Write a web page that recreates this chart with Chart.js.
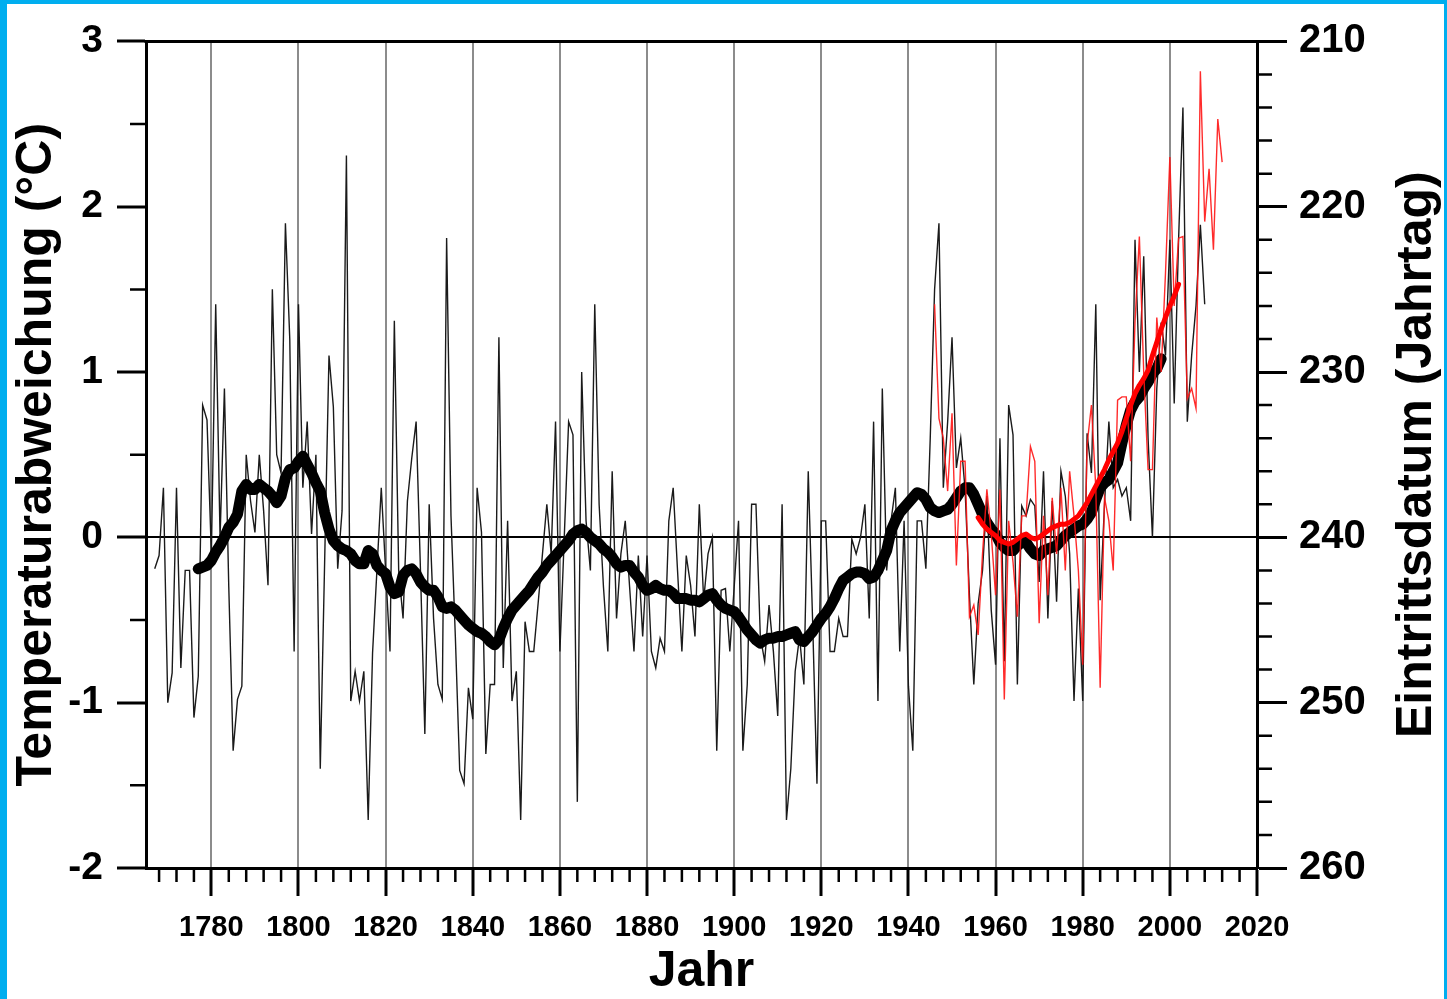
<!DOCTYPE html>
<html>
<head>
<meta charset="utf-8">
<script src="https://cdn.jsdelivr.net/npm/chart.js@4.4.1/dist/chart.umd.min.js"></script>
<style>
  html, body { margin: 0; padding: 0; background: #fff; }
  #frame {
    position: absolute; left: 0; top: 0;
    width: 1447px; height: 999px; box-sizing: border-box;
    border-left: 7px solid #00AEEF; border-top: 4px solid #00AEEF; border-right: 3px solid #00AEEF;
    background: #fff;
  }
  #box { position: relative; width: 1437px; height: 995px; }
</style>
</head>
<body>
<div id="frame"><div id="box"><canvas id="phenoChart"></canvas></div></div>
<script>
// Jahreswerte Temperaturabweichung (°C), ab 1767
const tempStart = 1767;
const tempAnnual = [
    -0.19, -0.11, 0.30,
    -1.00, -0.82, 0.30, -0.79, -0.20, -0.20, -1.09, -0.84, 0.80, 0.71,   // 1770
    -0.10, 1.41, 0.00, 0.90, -0.30, -1.29, -0.98, -0.90, 0.50, 0.22,     // 1780
    0.03, 0.50, 0.16, -0.29, 1.50, 0.50, 0.39, 1.90, 1.20, -0.69,        // 1790
    1.41, 0.30, 0.70, 0.02, 0.50, -1.40, -0.15, 1.10, 0.79, -0.19,       // 1800
    0.16, 2.31, -0.99, -0.81, -0.99, -0.81, -1.71, -0.70, -0.20, 0.30,   // 1810
    -0.20, -0.69, 1.31, -0.20, -0.49, 0.22, 0.48, 0.70, -0.20, -1.19,    // 1820
    0.20, -0.49, -0.89, -0.98, 1.81, 0.13, -0.60, -1.41, -1.49, -0.91,   // 1830
    -1.10, 0.30, 0.03, -1.31, -0.89, -0.89, 1.21, -0.79, 0.10, -0.99,    // 1840
    -0.81, -1.71, -0.51, -0.69, -0.69, -0.40, -0.10, 0.20, -0.10, 0.70,  // 1850
    -0.69, 0.00, 0.70, 0.62, -1.60, 1.00, 0.10, -0.20, 1.41, 0.20,       // 1860
    -0.30, -0.69, 0.40, -0.49, -0.10, 0.10, -0.30, -0.69, -0.11, -0.60,  // 1870
    -0.11, -0.69, -0.79, -0.61, -0.69, 0.10, 0.30, -0.20, -0.69, -0.11,  // 1880
    -0.29, -0.60, 0.20, -0.38, -0.10, 0.00, -1.29, -0.32, -0.31, -0.69,  // 1890
    -0.30, 0.10, -1.29, -0.89, 0.20, 0.20, -0.60, -0.75, -0.41, -0.69,   // 1900
    -1.08, 0.20, -1.71, -1.40, -0.81, -0.60, -0.89, 0.40, -0.50, -1.49,  // 1910
    0.10, 0.10, -0.69, -0.69, -0.49, -0.60, -0.60, -0.01, -0.10, 0.00,   // 1920
    0.20, -0.49, 0.70, -0.99, 0.90, -0.20, 0.10, 0.30, -0.69, 0.10,      // 1930
    -0.90, -1.29, 0.10, 0.10, -0.19, 0.60, 1.50, 1.90, 0.30, 0.70,       // 1940
    1.21, 0.42, 0.60, 0.29, -0.35, -0.89, -0.40, -0.20, 0.25, -0.44,     // 1950
    -0.77, 0.60, -0.75, 0.80, 0.62, -0.89, 0.19, 0.13, 0.23, 0.19,       // 1960
    -0.27, 0.40, -0.49, 0.22, -0.39, 0.40, 0.25, -0.10, -0.99, -0.31,    // 1970
    -0.99, 0.63, 0.39, 1.41, -0.38, 0.20, 0.70, 0.30, 0.35, 0.25,        // 1980
    0.30, 0.10, 1.80, 1.00, 1.70, 0.60, 0.00, 0.90, 1.30, 1.10,          // 1990
    1.80, 0.81, 1.80, 2.60, 0.70, 1.10, 1.40, 1.89, 1.41                 // 2000
];

// geglättete Temperaturabweichung (°C), ab 1777
const smoothStart = 1777;
const tempSmooth = [
    -0.19, -0.18, -0.17,
    -0.14, -0.09, -0.05, 0.00, 0.06, 0.09, 0.14, 0.28, 0.32, 0.29,       // 1780
    0.29, 0.32, 0.30, 0.28, 0.25, 0.21, 0.25, 0.36, 0.41, 0.42,          // 1790
    0.46, 0.49, 0.44, 0.39, 0.33, 0.28, 0.15, 0.05, -0.02, -0.05,        // 1800
    -0.07, -0.08, -0.10, -0.14, -0.16, -0.16, -0.08, -0.10, -0.17, -0.20, // 1810
    -0.22, -0.30, -0.34, -0.33, -0.23, -0.20, -0.19, -0.22, -0.27, -0.30, // 1820
    -0.32, -0.32, -0.36, -0.42, -0.43, -0.42, -0.44, -0.47, -0.50, -0.53, // 1830
    -0.55, -0.57, -0.58, -0.60, -0.63, -0.65, -0.62, -0.55, -0.49, -0.44, // 1840
    -0.41, -0.38, -0.35, -0.32, -0.28, -0.24, -0.21, -0.17, -0.14, -0.11, // 1850
    -0.08, -0.05, -0.02, 0.02, 0.04, 0.05, 0.03, 0.00, -0.02, -0.04,     // 1860
    -0.07, -0.09, -0.12, -0.16, -0.18, -0.17, -0.17, -0.21, -0.24, -0.29, // 1870
    -0.32, -0.31, -0.29, -0.31, -0.32, -0.32, -0.34, -0.37, -0.37, -0.37, // 1880
    -0.38, -0.38, -0.39, -0.37, -0.35, -0.34, -0.38, -0.41, -0.43, -0.44, // 1890
    -0.45, -0.48, -0.52, -0.56, -0.59, -0.62, -0.64, -0.62, -0.61, -0.61, // 1900
    -0.60, -0.60, -0.59, -0.58, -0.57, -0.62, -0.63, -0.60, -0.57, -0.53, // 1910
    -0.49, -0.46, -0.42, -0.37, -0.31, -0.26, -0.24, -0.22, -0.21, -0.21, // 1920
    -0.22, -0.25, -0.24, -0.20, -0.14, -0.08, 0.04, 0.10, 0.15, 0.18,    // 1930
    0.21, 0.24, 0.27, 0.26, 0.23, 0.18, 0.16, 0.15, 0.16, 0.17,          // 1940
    0.20, 0.24, 0.28, 0.30, 0.30, 0.26, 0.20, 0.14, 0.09, 0.05,          // 1950
    0.02, -0.03, -0.06, -0.08, -0.08, -0.05, -0.03, -0.03, -0.07, -0.10, // 1960
    -0.11, -0.08, -0.07, -0.06, -0.05, -0.02, 0.01, 0.03, 0.05, 0.07,    // 1970
    0.08, 0.11, 0.15, 0.23, 0.30, 0.33, 0.35, 0.40, 0.45, 0.57,          // 1980
    0.68, 0.77, 0.82, 0.85, 0.90, 0.94, 0.99, 1.02, 1.08                 // 1990
];

// Eintrittsdatum (Jahrtag), Jahreswerte ab 1946
const dateStart = 1946;
const dateAnnual = [
    225.9, 232.8, 234.0, 237.2,
    232.5, 241.7, 235.4, 235.4, 244.8, 244.1, 245.9, 241.0, 237.1, 239.8, // 1950
    243.5, 237.1, 249.8, 239.0, 241.5, 244.8, 238.7, 238.7, 234.5, 235.4, // 1960
    245.2, 238.7, 243.5, 237.6, 241.0, 237.0, 242.0, 236.0, 238.7, 242.0, // 1970
    247.7, 234.4, 232.0, 237.0, 249.1, 237.6, 239.0, 242.0, 231.7, 231.5, // 1980
    231.5, 235.4, 227.0, 221.8, 230.0, 235.9, 235.9, 226.7, 230.0, 224.0, // 1990
    217.0, 226.0, 221.9, 221.8, 231.6, 231.0, 232.2, 211.8, 220.9, 217.7, // 2000
    222.6, 214.7, 217.3                                                   // 2010
];

// Eintrittsdatum (Jahrtag), geglättet ab 1956
const dateSmoothStart = 1956;
const dateSmooth = [
    238.8, 239.2, 239.5, 239.7,
    239.9, 240.2, 240.3, 240.4, 240.3, 240.1, 239.9, 239.8, 240.0, 240.1, // 1960
    240.0, 239.8, 239.6, 239.4, 239.3, 239.2, 239.2, 239.1, 238.9, 238.7, // 1970
    238.3, 237.9, 237.4, 236.9, 236.4, 235.9, 235.3, 234.8, 234.3, 233.6, // 1980
    232.8, 232.0, 231.3, 230.8, 230.4, 229.9, 229.0, 228.2, 227.4, 226.7, // 1990
    226.0, 225.4, 224.7                                                   // 2000
];

const yearTicks = [1780, 1800, 1820, 1840, 1860, 1880, 1900, 1920, 1940, 1960, 1980, 2000, 2020];

const toPoints = (start, arr) => arr.map((v, i) => ({ x: start + i, y: v }));

const FONT = '"Liberation Sans", Arial, Helvetica, sans-serif';

// Nebenstriche, oberer Rahmen und rechte Achsenbeschriftung
const extras = {
    id: 'extras',
    afterDraw(chart) {
        const { ctx, chartArea: a, scales } = chart;
        ctx.save();
        ctx.strokeStyle = '#000';
        ctx.lineWidth = 2.5;
        ctx.beginPath();
        for (let yr = 1768; yr < 2020; yr += 4) {
            if (yr % 20 === 0) continue;
            const px = scales.x.getPixelForValue(yr);
            ctx.moveTo(px, a.bottom);
            ctx.lineTo(px, a.bottom + 14);
        }
        for (let v = -1.5; v < 3; v += 1) {
            const py = scales.y.getPixelForValue(v);
            ctx.moveTo(a.left, py);
            ctx.lineTo(a.left - 16, py);
        }
        for (let d = 212; d < 260; d += 2) {
            if (d % 10 === 0) continue;
            const py = scales.y2.getPixelForValue(d);
            ctx.moveTo(a.right, py);
            ctx.lineTo(a.right + 15, py);
        }
        ctx.stroke();

        ctx.lineWidth = 3;
        ctx.beginPath();
        ctx.moveTo(a.left - 1.5, a.top);
        ctx.lineTo(a.right + 1.5, a.top);
        ctx.stroke();

        ctx.translate(1410, (a.top + a.bottom) / 2);
        ctx.rotate(-Math.PI / 2);
        ctx.fillStyle = '#000';
        ctx.font = 'bold 50px ' + FONT;
        ctx.textAlign = 'center';
        ctx.textBaseline = 'middle';
        ctx.fillText('Eintrittsdatum (Jahrtag)', 0, 0);
        ctx.restore();
    }
};

new Chart(document.getElementById('phenoChart'), {
    type: 'line',
    data: {
        datasets: [{
            label: 'Eintrittsdatum geglättet',
            data: toPoints(dateSmoothStart, dateSmooth),
            yAxisID: 'y2',
            borderColor: '#ff0000',
            borderWidth: 5,
            borderCapStyle: 'round',
            borderJoinStyle: 'round',
            pointRadius: 0,
            order: 0
        }, {
            label: 'Eintrittsdatum',
            data: toPoints(dateStart, dateAnnual),
            yAxisID: 'y2',
            borderColor: 'rgba(255, 20, 20, 0.9)',
            borderWidth: 1.4,
            pointRadius: 0,
            order: 1
        }, {
            label: 'Temperatur geglättet',
            data: toPoints(smoothStart, tempSmooth),
            yAxisID: 'y',
            borderColor: '#000',
            borderWidth: 11,
            borderCapStyle: 'round',
            borderJoinStyle: 'round',
            pointRadius: 0,
            order: 2
        }, {
            label: 'Temperaturabweichung',
            data: toPoints(tempStart, tempAnnual),
            yAxisID: 'y',
            borderColor: '#1a1a1a',
            borderWidth: 1.4,
            pointRadius: 0,
            order: 3
        }]
    },
    options: {
        responsive: true,
        maintainAspectRatio: false,
        animation: false,
        layout: { padding: { top: 36, left: 0, right: 0, bottom: 0 } },
        plugins: {
            legend: { display: false },
            tooltip: { enabled: false }
        },
        scales: {
            x: {
                type: 'linear',
                position: 'bottom',
                min: 1765,
                max: 2020,
                afterBuildTicks: s => { s.ticks = yearTicks.map(v => ({ value: v })); },
                afterFit: s => { s.height = 131; },
                ticks: {
                    color: '#000',
                    padding: 15,
                    maxRotation: 0,
                    autoSkip: false,
                    font: { family: FONT, size: 29, weight: 'bold' },
                    callback: v => String(v)
                },
                grid: {
                    color: '#8c8c8c',
                    lineWidth: 2,
                    tickColor: '#000',
                    tickWidth: 3,
                    tickLength: 28
                },
                border: { color: '#000', width: 3 },
                title: {
                    display: true,
                    text: 'Jahr',
                    color: '#000',
                    padding: { top: 0, bottom: -3 },
                    font: { family: FONT, size: 50, weight: 'bold' }
                }
            },
            y: {
                position: 'left',
                min: -2,
                max: 3,
                afterFit: s => { s.width = 139; },
                ticks: {
                    stepSize: 1,
                    color: '#000',
                    padding: 14,
                    font: { family: FONT, size: 39, weight: 'bold' }
                },
                grid: {
                    color: ctx => ctx.tick && ctx.tick.value === 0 ? '#000' : 'rgba(0,0,0,0)',
                    lineWidth: 2,
                    tickColor: '#000',
                    tickWidth: 3,
                    tickLength: 29
                },
                border: { color: '#000', width: 3 },
                title: {
                    display: true,
                    text: 'Temperaturabweichung (°C)',
                    color: '#000',
                    padding: 0,
                    font: { family: FONT, size: 50, weight: 'bold' }
                }
            },
            y2: {
                position: 'right',
                min: 210,
                max: 260,
                reverse: true,
                afterFit: s => { s.width = 187; },
                ticks: {
                    stepSize: 10,
                    color: '#000',
                    padding: 12,
                    font: { family: FONT, size: 40, weight: 'bold' }
                },
                grid: {
                    drawOnChartArea: false,
                    tickColor: '#000',
                    tickWidth: 3,
                    tickLength: 30
                },
                border: { color: '#000', width: 3 }
            }
        }
    },
    plugins: [extras]
});
</script>
</body>
</html>
